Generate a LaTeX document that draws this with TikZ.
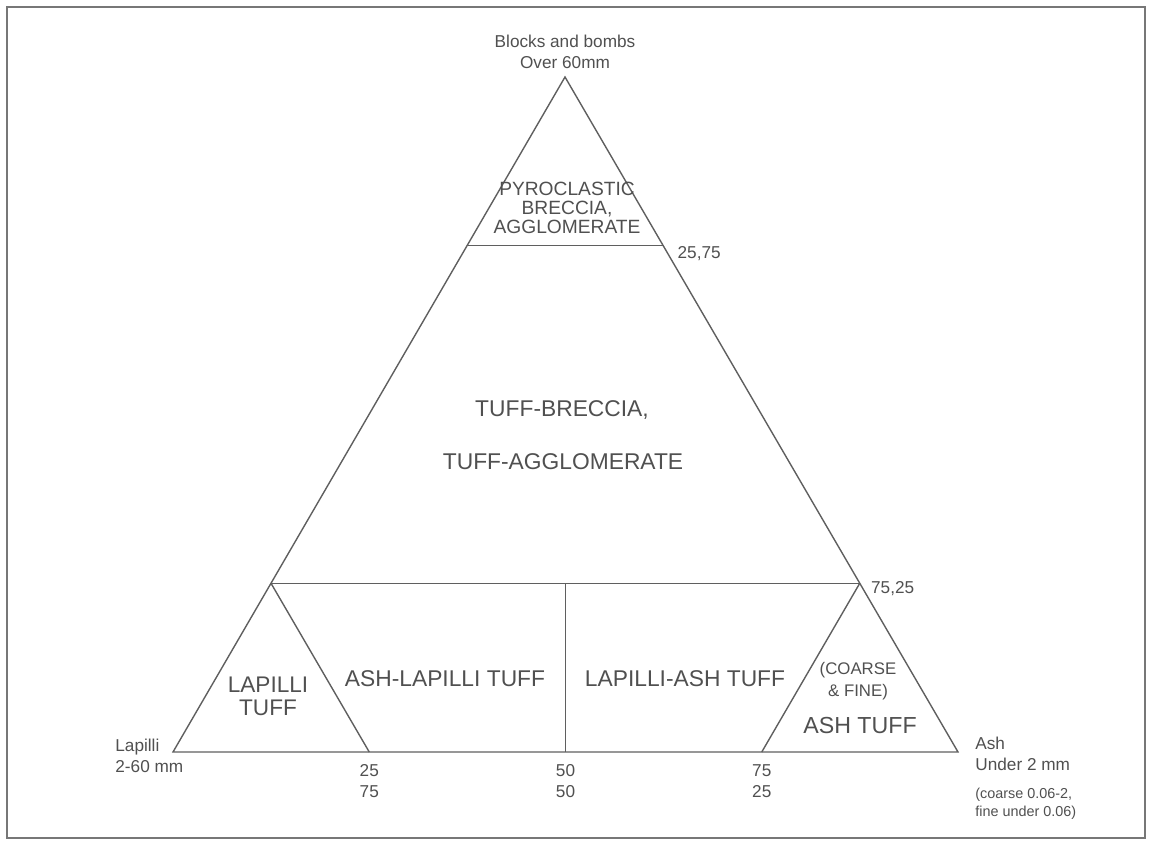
\documentclass[tikz,border=0pt]{standalone}
\usepackage{fontspec}
\setmainfont{Liberation Sans}
\usetikzlibrary{positioning,calc}
\definecolor{tufftext}{RGB}{80,80,80}
\definecolor{tuffline}{RGB}{95,95,95}

\begin{document}
\begin{tikzpicture}[x=0.5pt, y=-0.5pt, every node/.style={text=tufftext, inner sep=0pt}]
  \tikzset{
    edge/.style={draw=tuffline, line width=0.7pt},
    field/.style={font=\fontsize{11.4}{13}\selectfont, align=center},
    pyro/.style={font=\fontsize{9.6}{9.6}\selectfont, align=center},
    corner/.style={font=\fontsize{8.6}{10.5}\selectfont, align=left},
    tick/.style={font=\fontsize{8.6}{10.5}\selectfont, align=center},
    note/.style={font=\fontsize{7.2}{9}\selectfont, align=left}
  }
  \useasboundingbox (0,0) rectangle (1149,841);
  \draw[draw=tuffline!85, line width=1pt] (7,7) rectangle (1145,838);

  % corners of the ternary diagram
  \coordinate (blocks) at (565,77);
  \coordinate (lapilli) at (173,752);
  \coordinate (ash) at (958,752);

  % division points
  \coordinate (u25l) at ($(blocks)!0.25!(lapilli)$);
  \coordinate (u25r) at ($(blocks)!0.25!(ash)$);
  \coordinate (u75l) at ($(blocks)!0.75!(lapilli)$);
  \coordinate (u75r) at ($(blocks)!0.75!(ash)$);
  \coordinate (b25) at ($(lapilli)!0.25!(ash)$);
  \coordinate (b50) at ($(lapilli)!0.5!(ash)$);
  \coordinate (b75) at ($(lapilli)!0.75!(ash)$);
  \coordinate (m50) at (u75l -| b50);

  \draw[edge] (blocks) -- (lapilli) -- (ash) -- cycle;
  \draw[edge] (u25l) -- (u25r);
  \draw[edge] (u75l) -- (u75r);
  \draw[edge] (m50) -- (b50);
  \draw[edge] (u75l) -- (b25);
  \draw[edge] (u75r) -- (b75);

  % corner labels
  \node[corner, align=center, anchor=south] (blockslbl) at ($(blocks)+(0,-8)$) {Blocks and bombs\\Over 60mm};
  \node[corner, anchor=west] (lapillilbl) at (115,755.5) {Lapilli\\2-60 mm};
  \node[corner, anchor=west] (ashlbl) at (975,753.5) {Ash\\Under 2 mm};
  \node[note, below=8.5pt of ashlbl.south west, anchor=north west] (ashnote) {(coarse 0.06-2,\\fine under 0.06)};

  % percentages
  \node[corner, anchor=west] (p2575) at ($(u25r)+(14,8)$) {25,75};
  \node[corner, anchor=west] (p7525) at ($(u75r)+(11,5)$) {75,25};
  \node[tick] (t25) at ($(b25)+(0,29.5)$) {25\\75};
  \node[tick] (t50) at ($(b50)+(0,29.5)$) {50\\50};
  \node[tick] (t75) at ($(b75)+(0,29.5)$) {75\\25};

  % rock names
  \node[pyro] (pyroclastic) at (567,208) {PYROCLASTIC\\BRECCIA,\\AGGLOMERATE};
  \node[field] (tuffbreccia) at (562,410) {TUFF-BRECCIA,};
  \node[field] (tuffagglo) at (563,462) {TUFF-AGGLOMERATE};
  \node[field, font=\fontsize{11.3}{11.6}\selectfont] (lapillituff) at (268,696) {LAPILLI\\TUFF};
  \node[field] (ashlapilli) at (445,679) {ASH-LAPILLI TUFF};
  \node[field] (lapilliash) at (685,679) {LAPILLI-ASH TUFF};
  \node[field, font=\fontsize{8.4}{11}\selectfont] (coarsefine) at (858,681) {(COARSE\\\& FINE)};
  \node[field, font=\fontsize{11.6}{13}\selectfont] (ashtuff) at (860,725) {ASH TUFF};
\end{tikzpicture}
\end{document}
